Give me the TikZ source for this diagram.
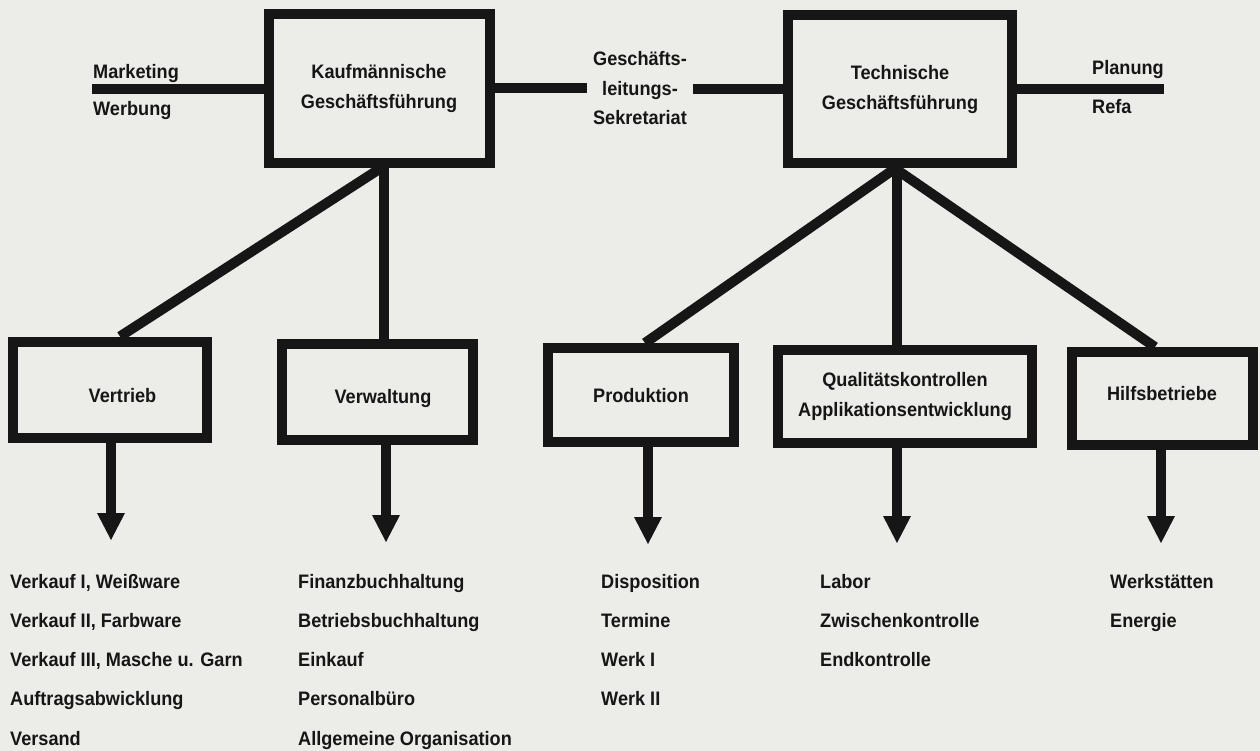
\documentclass[tikz,border=0pt]{standalone}
\usepackage{fontspec}
\setmainfont{Liberation Sans}[FakeStretch=0.93]
\usetikzlibrary{arrows.meta,calc}
\definecolor{paper}{RGB}{236,236,233}
\definecolor{ink}{RGB}{22,22,22}
\begin{document}
\begin{tikzpicture}[x=1pt,y=-1pt,
  every node/.style={text=ink,font=\bfseries\fontsize{19.5}{29.5}\selectfont},
  box/.style={draw=ink,line width=10pt,inner sep=0pt,align=center},
  conn/.style={draw=ink,line width=10pt},
  arr/.style={conn,-{Triangle[width=28pt,length=27pt,line width=0pt]}},
  item/.style={anchor=base west,inner sep=0pt},
  lab/.style={anchor=base west,inner sep=0pt}]
\useasboundingbox (0,0) rectangle (1260,751);
\fill[paper] (0,0) rectangle (1260,751);

% top boxes
\node[box,minimum width=221pt,minimum height=149pt] (K) at (379,88.5) {Kaufmännische\\Geschäftsführung};
\node[box,minimum width=223.5pt,minimum height=148pt] (T) at (900,89.5) {Technische\\Geschäftsführung};
\node[align=center,inner xsep=6pt,inner ysep=0pt] (sek) at (640,88.5) {Geschäfts-\\leitungs-\\Sekretariat};

% side labels
\node[lab] (mkt) at (93,79) {Marketing};
\node[lab] (wer) at (93,116) {Werbung};
\node[lab] (pla) at (1092,75) {Planung};
\node[lab] (ref) at (1092,114) {Refa};
\coordinate (mk) at (92,89);
\coordinate (pl) at (1164,88.5);

\draw[conn] (mk) -- (mk -| K.west);
\draw[conn] (K.east) -- (K.east -| sek.west);
\draw[conn] (sek.east |- T.west) -- (T.west);
\draw[conn] (T.east) -- (T.east -| pl);

% lower boxes
\node[box,minimum width=194pt,minimum height=96pt,text height=25pt,text depth=0pt] (Vt) at (110,389.5) {\hspace*{25pt}Vertrieb};
\node[box,minimum width=191pt,minimum height=95.5pt,text height=22pt,text depth=0pt] (Vw) at (377.5,392) {\hspace*{11pt}Verwaltung};
\node[box,minimum width=186pt,minimum height=94pt,text height=14pt,text depth=0pt] (Pr) at (641,395) {Produktion};
\node[box,minimum width=254pt,minimum height=92.5pt] (Q) at (905,396.7) {Qualitätskontrollen\\Applikationsentwicklung};
\node[box,minimum width=181pt,minimum height=93pt,text height=14pt,text depth=11pt] (H) at (1162,398.5) {Hilfsbetriebe};

% connectors from top boxes
\coordinate (vwtop) at ($(Vw.north)+(6.5,0)$);
\coordinate (qtop) at ($(Q.north)+(-8,0)$);
\draw[conn] ($(K.south)+(2,0)$) -- ($(Vt.north)+(10,0)$);
\draw[conn] (vwtop) -- (vwtop |- K.south);
\draw[conn] ($(T.south)+(-5,0)$) -- ($(Pr.north)+(4,0)$);
\draw[conn] (qtop) -- (qtop |- T.south);
\draw[conn] ($(T.south)+(-5,0)$) -- ($(H.north)+(-7,0)$);

% arrows down
\coordinate (aVt) at (111,540);
\coordinate (aVw) at (386,542);
\coordinate (aPr) at (648,544);
\coordinate (aQ) at (897,543);
\coordinate (aH) at (1161,543);
\draw[arr] (aVt |- Vt.south) -- (aVt);
\draw[arr] (aVw |- Vw.south) -- (aVw);
\draw[arr] (aPr |- Pr.south) -- (aPr);
\draw[arr] (aQ |- Q.south) -- (aQ);
\draw[arr] (aH |- H.south) -- (aH);

% lists
\foreach \t [count=\i] in {{Verkauf I, Weißware},{Verkauf II, Farbware},{Verkauf III, Masche u. Garn},Auftragsabwicklung,Versand}
  \node[item] (vt\i) at (10,{588+39.25*(\i-1)}) {\t};
\foreach \t [count=\i] in {Finanzbuchhaltung,Betriebsbuchhaltung,Einkauf,Personalbüro,Allgemeine Organisation}
  \node[item] (vw\i) at (298,{588+39.25*(\i-1)}) {\t};
\foreach \t [count=\i] in {Disposition,Termine,Werk I,Werk II}
  \node[item] (pr\i) at (601,{588+39.25*(\i-1)}) {\t};
\foreach \t [count=\i] in {Labor,Zwischenkontrolle,Endkontrolle}
  \node[item] (q\i) at (820,{588+39.25*(\i-1)}) {\t};
\foreach \t [count=\i] in {Werkstätten,Energie}
  \node[item] (h\i) at (1110,{588+39.25*(\i-1)}) {\t};
\end{tikzpicture}
\end{document}
